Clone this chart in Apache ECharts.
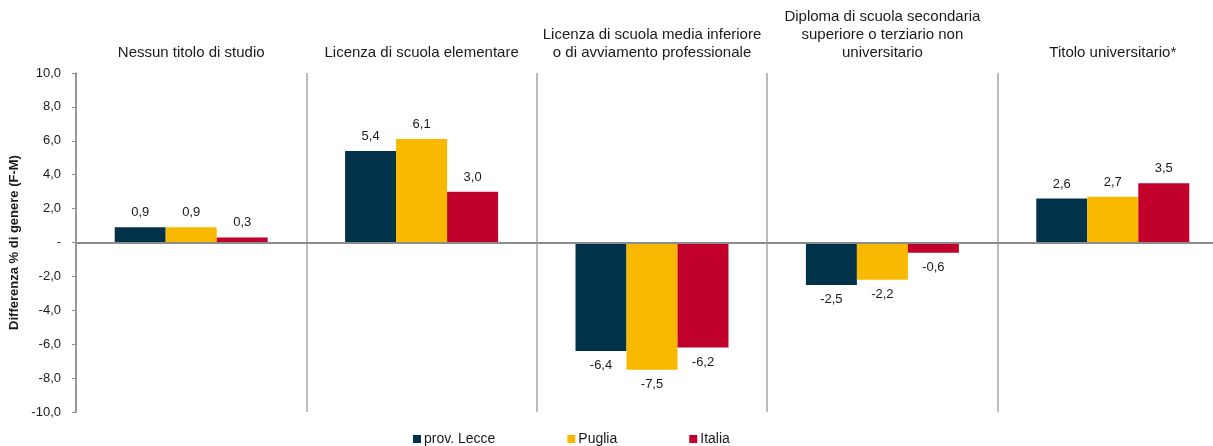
<!DOCTYPE html>
<html>
<head>
<meta charset="utf-8">
<script src="https://cdn.jsdelivr.net/npm/echarts@6/dist/echarts.min.js"></script>
<style>
  html, body { margin: 0; padding: 0; background: #fff; }
  #main { width: 1213px; height: 446px; }
</style>
</head>
<body>
<div id="main"></div>
<script>
// categorie (titolo di studio)
var categories = [
  'Nessun titolo di studio',
  'Licenza di scuola elementare',
  'Licenza di scuola media inferiore\no di avviamento professionale',
  'Diploma di scuola secondaria\nsuperiore o terziario non\nuniversitario',
  'Titolo universitario*'
];
var lecce  = [0.9, 5.4, -6.4, -2.5, 2.6];
var puglia = [0.9, 6.1, -7.5, -2.2, 2.7];
var italia = [0.3, 3.0, -6.2, -0.6, 3.5];
var yTicks = [-10, -8, -6, -4, -2, 0, 2, 4, 6, 8, 10];

function fmt(v) {
  return v.toFixed(1).replace('.', ',');
}

function barSeries(name, data, color) {
  return {
    name: name,
    type: 'bar',
    data: data.map(function (v) {
      return { value: v, label: { position: v < 0 ? 'bottom' : 'top' } };
    }),
    barWidth: 51,
    barGap: '0%',
    itemStyle: { color: color },
    label: {
      show: true,
      distance: 8,
      color: '#1a1a1a',
      fontSize: 13,
      formatter: function (p) { return fmt(p.value); }
    }
  };
}

var myChart = echarts.init(document.getElementById('main'));
var series = [
  barSeries('prov. Lecce', lecce, '#00324A'),
  barSeries('Puglia', puglia, '#F9B900'),
  barSeries('Italia', italia, '#C1002C')
];
// linea dello zero
series[0].markLine = {
  silent: true,
  symbol: 'none',
  label: { show: false },
  lineStyle: { color: '#8c8c8c', width: 2, type: 'solid' },
  data: [{ yAxis: 0 }]
};

myChart.setOption({
  animation: false,
  textStyle: { fontFamily: 'Liberation Sans, Arial, sans-serif' },
  grid: {
    left: 76, width: 1152, top: 73, bottom: 34,
    containLabel: false, outerBoundsMode: 'none'
  },
  legend: {
    left: 408,
    top: 427,
    itemWidth: 8,
    itemHeight: 8,
    itemGap: 72,
    icon: 'rect',
    textStyle: { fontSize: 14, color: '#1a1a1a', padding: [0, 0, 0, -2] },
    data: ['prov. Lecce', 'Puglia', 'Italia']
  },
  xAxis: {
    type: 'category',
    position: 'top',
    data: categories,
    axisLine: { show: false, onZero: false },
    axisTick: { show: false },
    axisLabel: {
      interval: 0,
      margin: 11,
      fontSize: 15,
      lineHeight: 18,
      color: '#1a1a1a',
      align: 'center'
    },
    splitLine: { show: true, lineStyle: { color: '#a6a6a6', width: 1.5 } }
  },
  yAxis: {
    type: 'value',
    min: yTicks[0],
    max: yTicks[yTicks.length - 1],
    interval: 2,
    name: 'Differenza % di genere (F-M)',
    nameLocation: 'middle',
    nameRotate: 90,
    nameGap: 53,
    nameTextStyle: { fontSize: 13, fontWeight: 'bold', color: '#1a1a1a' },
    axisLine: { show: true, lineStyle: { color: '#8c8c8c', width: 1.5 } },
    axisTick: { show: true, length: 4, lineStyle: { color: '#8c8c8c' } },
    splitLine: { show: false },
    axisLabel: {
      fontSize: 13,
      color: '#1a1a1a',
      margin: 15,
      formatter: function (v) { return v === 0 ? '-' : fmt(v); }
    }
  },
  series: series
});
</script>
</body>
</html>
